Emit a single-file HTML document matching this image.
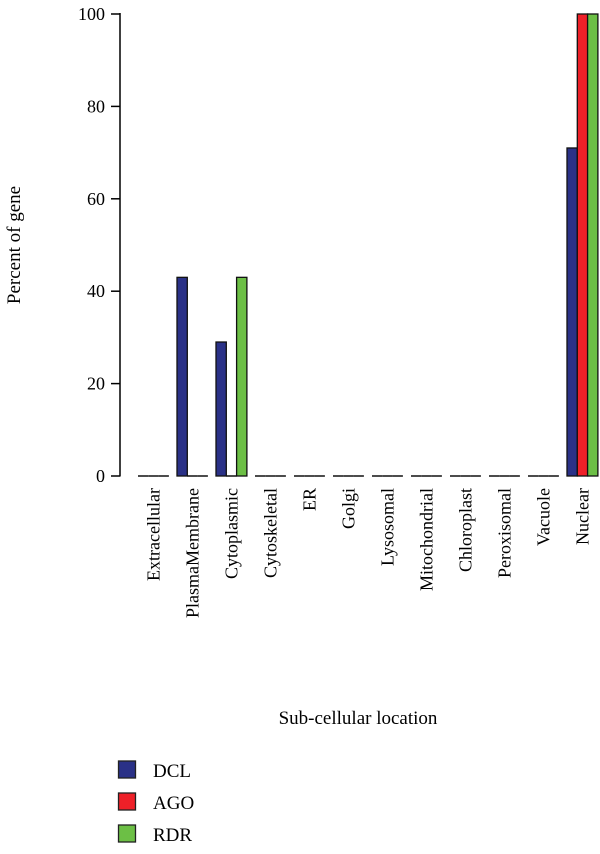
<!DOCTYPE html>
<html><head><meta charset="utf-8"><style>
body{margin:0;background:#fff}
svg{display:block;font-family:"Liberation Serif",serif}
</style></head><body>
<svg id="chart" width="600" height="854" viewBox="0 0 600 854">
<g id="axes"></g><g id="bars"></g>
<text transform="translate(20,245) rotate(-90)" text-anchor="middle" font-size="19">Percent of gene</text>
<text x="358" y="724" text-anchor="middle" font-size="19">Sub-cellular location</text>
<g id="legend"></g>
</svg>
<script>
const categories=["Extracellular","PlasmaMembrane","Cytoplasmic","Cytoskeletal","ER","Golgi","Lysosomal","Mitochondrial","Chloroplast","Peroxisomal","Vacuole","Nuclear"];
const seriesNames=["DCL","AGO","RDR"];
const dcl=[0,43,29,0,0,0,0,0,0,0,0,71];
const ago=[0,0,0,0,0,0,0,0,0,0,0,100];
const rdr=[0,0,43,0,0,0,0,0,0,0,0,100];
const yTicks=[0,20,40,60,80,100];
const colors=["#2a3187","#ee2028","#6cbf45"];
const NS="http://www.w3.org/2000/svg";
const y0=476,y1=14,gx0=138,gs=39,bw=10.3;
const yS=v=>y0-(v/100)*(y0-y1);
const xS=(i,s)=>gx0+i*gs+s*bw;
const axes=document.getElementById('axes'),bars=document.getElementById('bars'),leg=document.getElementById('legend');
function mk(t,a,p){const e=document.createElementNS(NS,t);for(const k in a)e.setAttribute(k,a[k]);p.appendChild(e);return e;}
let ax=mk('line',{x1:120,y1:y1-1,x2:120,y2:y0+0.5,stroke:'#000','stroke-width':1.5},axes);


yTicks.forEach(v=>{
 const t=mk('line',{x1:111,x2:120,y1:yS(v),y2:yS(v),stroke:'#000','stroke-width':1.5},axes);
 
 
 const l=mk('text',{x:105,y:yS(v)+6,'text-anchor':'end','font-size':18},axes);
 l.textContent=v;
 
 
});
const series=[dcl,ago,rdr];
categories.forEach((c,i)=>{
 series.forEach((arr,s)=>{
  const v=arr[i],x=xS(i,s);
  if(v>0){
   const r=mk('rect',{x:x,y:yS(v),width:bw,height:y0-yS(v),fill:colors[s],stroke:'#111','stroke-width':1.3},bars);
   
   
  }else{
   const r=mk('line',{x1:x,x2:x+bw,y1:y0,y2:y0,stroke:'#111','stroke-width':1.5},bars);
   
   
  }
 });
 const cx=xS(i,1.5)+6;
 const t=mk('text',{transform:`translate(${cx},488) rotate(-90)`,'text-anchor':'end','font-size':18},axes);
 t.textContent=c;
 
 
});
seriesNames.forEach((n,s)=>{
 const yy=761+s*32;
 const r=mk('rect',{x:118.5,y:yy,width:17,height:17,fill:colors[s],stroke:'#222','stroke-width':1.3},leg);
 
 
 const t=mk('text',{x:153,y:yy+16,'font-size':19},leg);
 t.textContent=n;
 
 
});
</script>
</body></html>
